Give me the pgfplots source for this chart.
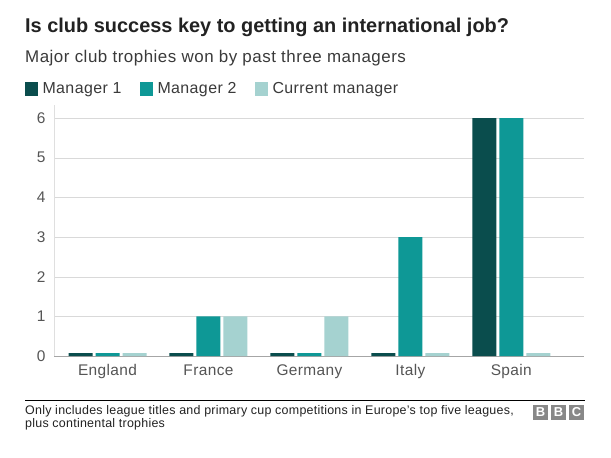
\documentclass[border=0pt]{standalone}
\usepackage{pgfplots}
\pgfplotsset{compat=1.18}
\usepackage{fontspec}
\setmainfont{Liberation Sans}
\definecolor{mone}{HTML}{0A4D4D}
\definecolor{mtwo}{HTML}{0E9896}
\definecolor{mcur}{HTML}{A5D2D0}
\definecolor{txt}{HTML}{222222}
\definecolor{sub}{HTML}{3A3A3A}
\definecolor{tick}{HTML}{555555}
\newcommand{\fs}[2]{\fontsize{#1}{#2}\selectfont}
\begin{document}
\begin{tikzpicture}
\useasboundingbox (0,0) rectangle (611bp,-458bp);
\fill[white] (0,0) rectangle (611bp,-458bp);
\node[anchor=base west, inner sep=0, font=\bfseries\fs{20}{22}, text=txt] at (25bp,-32bp) {Is club success key to getting an international job?};
\node[anchor=base west, inner sep=0, font=\fs{17}{19}\addfontfeature{LetterSpace=3}, text=sub] at (25bp,-62bp) {Major club trophies won by past three managers};
\begin{axis}[
  at={(54bp,-356bp)}, anchor=south west,
  scale only axis, width=530bp, height=251bp,
  xmin=-0.53, xmax=4.72, ymin=0, ymax=6.33,
  ybar=3bp, bar width=24bp,
  axis x line*=bottom, axis y line*=left,
  x axis line style={draw=gray!70, -},
  y axis line style={draw=gray!25, -},
  major tick length=0,
  ytick={0,1,2,3,4,5,6},
  ymajorgrids, grid style={draw=gray!30},
  xtick={0,1,2,3,4},
  xticklabels={England,France,Germany,Italy,Spain},
  /pgf/number format/assume math mode=true,
  tick label style={font=\fs{15.5}{16}\addfontfeature{LetterSpace=2.5}, text=tick},
  yticklabel style={xshift=-5bp},
  xticklabel style={yshift=-5bp},
  legend columns=3,
  legend style={at={(-0.055,1.065)}, anchor=west, draw=none, fill=none, inner sep=0pt,
    font=\fs{16}{16}\addfontfeature{LetterSpace=2.5}, text=sub,
    nodes={inner xsep=4.5bp},
    /tikz/every even column/.append style={column sep=14bp}},
  legend image code/.code={\fill[#1,draw=none] (0bp,-7bp) rectangle (13bp,7bp);},
]
\addplot[fill=mone, draw=none] coordinates {(0,0.07) (1,0.07) (2,0.07) (3,0.07) (4,6)};
\addplot[fill=mtwo, draw=none] coordinates {(0,0.07) (1,1) (2,0.07) (3,3) (4,6)};
\addplot[fill=mcur, draw=none] coordinates {(0,0.07) (1,1) (2,1) (3,0.07) (4,0.07)};
\legend{Manager 1, Manager 2, Current manager}
\end{axis}
\draw[black, line width=0.8bp] (25bp,-400bp) -- (585bp,-400bp);
\node[anchor=north west, inner sep=0, align=left, font=\fs{12.5}{13.5}\addfontfeature{LetterSpace=2}, text=txt] at (25bp,-405bp) {Only includes league titles and primary cup competitions in Europe's top five leagues,\\plus continental trophies};
\foreach \i/\l in {0/B,1/B,2/C} {
  \fill[gray!90!black!85] ({533bp+\i*18bp},-405bp) rectangle ({548bp+\i*18bp},-420bp);
  \node[text=white, font=\bfseries\fs{13}{13}, inner sep=0] at ({540.5bp+\i*18bp},-412.5bp) {\l};
}
\end{tikzpicture}
\end{document}
